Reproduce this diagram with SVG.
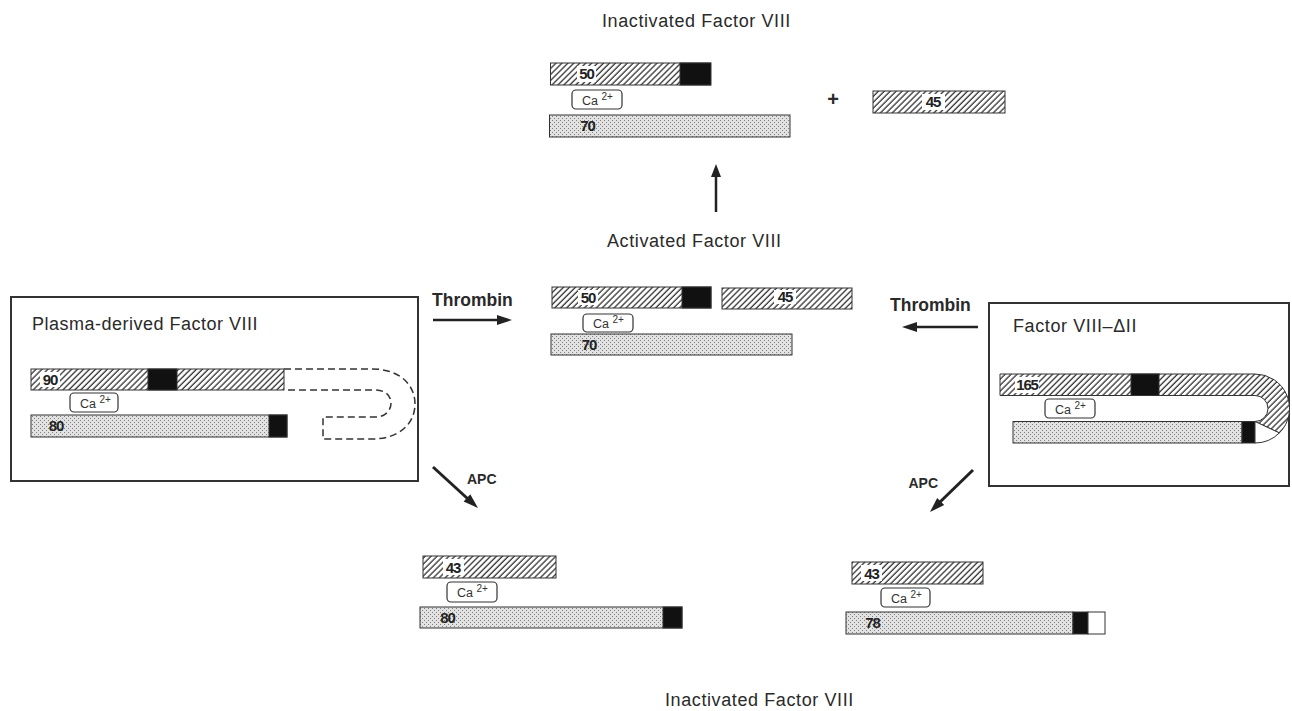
<svg xmlns="http://www.w3.org/2000/svg" width="1292" height="711" viewBox="0 0 1292 711">
<defs>
<pattern id="hatch" patternUnits="userSpaceOnUse" width="4.2" height="4.2" patternTransform="rotate(45)">
<rect width="4.2" height="4.2" fill="#fff"/>
<line x1="1" y1="0" x2="1" y2="4.2" stroke="#222" stroke-width="1.2"/>
</pattern>
<pattern id="dots" patternUnits="userSpaceOnUse" width="4" height="4">
<rect width="4" height="4" fill="#e2e2e2"/>
<rect x="0" y="0" width="1" height="1" fill="#808080"/>
<rect x="2" y="2" width="1" height="1" fill="#808080"/>
</pattern>
</defs>
<style>
.title{font-family:"Liberation Sans",Arial,sans-serif;font-size:18px;letter-spacing:0.6px;fill:#2a2a2a}
.bold{font-family:"Liberation Sans",Arial,sans-serif;font-weight:bold;fill:#2a2a2a}
.num{font-family:"Liberation Sans",Arial,sans-serif;font-weight:bold;font-size:15px;letter-spacing:-1.2px;fill:#222;text-anchor:middle}
.ca{font-family:"Liberation Sans",Arial,sans-serif;font-size:12.5px;fill:#333}
.sup{font-size:10px}
.h{fill:url(#hatch);stroke:#333;stroke-width:1}
.s{fill:url(#dots);stroke:#333;stroke-width:1}
.k{fill:#111;stroke:#333;stroke-width:1}
.w{fill:#fff;stroke:none}
.wb{fill:#fff;stroke:#333;stroke-width:1}
.cab{fill:#fff;stroke:#333;stroke-width:1.2}
.box{fill:none;stroke:#333;stroke-width:2}
.arr{stroke:#222;fill:none}
.head{fill:#222}
.dash{fill:none;stroke:#333;stroke-width:1.5;stroke-dasharray:7 4}
</style>
<rect width="1292" height="711" fill="#fff"/>

<g id="inactivated-top">
<text class="title" x="602" y="27">Inactivated Factor VIII</text>
<rect class="h" x="550.5" y="63" width="160" height="22"/>
<rect class="k" x="680" y="63" width="31" height="22"/>
<rect class="w" x="577" y="66" width="19" height="16"/>
<text class="num" x="586.5" y="79">50</text>
<rect class="cab" x="572" y="90" width="50" height="19" rx="4"/>
<text class="ca" x="582" y="105">Ca <tspan class="sup" dy="-5">2+</tspan></text>
<rect class="s" x="549.5" y="115" width="240.5" height="22"/>
<text class="num" x="587.5" y="131">70</text>
</g>

<g id="plus">
<text class="bold" x="833" y="106" font-size="20" text-anchor="middle">+</text>
</g>

<g id="fragment-45-top">
<rect class="h" x="873" y="91" width="132" height="22"/>
<rect class="w" x="922" y="94" width="23" height="16"/>
<text class="num" x="933" y="107">45</text>
</g>

<g id="activated">
<text class="title" x="607" y="247">Activated Factor VIII</text>
<rect class="h" x="552" y="287" width="159" height="21"/>
<rect class="k" x="682" y="287" width="29" height="21"/>
<rect class="w" x="578" y="290" width="20" height="15"/>
<text class="num" x="588" y="303">50</text>
<rect class="h" x="722" y="288" width="130" height="21"/>
<rect class="w" x="774" y="290" width="22" height="14"/>
<text class="num" x="785" y="302">45</text>
<rect class="cab" x="583" y="314" width="50" height="18" rx="4"/>
<text class="ca" x="593" y="328">Ca <tspan class="sup" dy="-5">2+</tspan></text>
<rect class="s" x="551" y="334" width="241" height="21"/>
<text class="num" x="589" y="350">70</text>
</g>

<g id="plasma-derived">
<rect class="box" x="11" y="297" width="407" height="184"/>
<text class="title" x="32" y="330" style="letter-spacing:0.5px">Plasma-derived Factor VIII</text>
<path class="dash" d="M284,369 H372 C400,369 415,385 415,404 C415,423 400,439 372,439 H323 V417 H375 C386,417 391,410 391,403 C391,396 386,390 375,390 H284"/>
<rect class="h" x="31" y="369" width="253" height="21"/>
<rect class="k" x="148" y="369" width="29" height="21"/>
<rect class="w" x="40" y="372" width="20" height="15"/>
<text class="num" x="50" y="385">90</text>
<rect class="cab" x="70" y="393" width="48" height="19" rx="4"/>
<text class="ca" x="80" y="408">Ca <tspan class="sup" dy="-5">2+</tspan></text>
<rect class="s" x="31" y="415" width="256" height="22"/>
<rect class="k" x="269" y="415" width="18" height="22"/>
<text class="num" x="56" y="431">80</text>
</g>

<g id="factor-viii-dii">
<rect class="box" x="989" y="303" width="300" height="183"/>
<text class="title" x="1013" y="332">Factor VIII–ΔII</text>
<path class="h" d="M1000,374 H1255 A34.5,34.5 0 0 1 1279.4,432.9 L1255,421.5 A13,13 0 0 0 1255,395.5 H1000 Z"/>
<rect class="k" x="1131" y="374" width="28" height="21.5"/>
<rect class="w" x="1015" y="377" width="24" height="16"/>
<text class="num" x="1027" y="390">165</text>
<rect class="cab" x="1045" y="399" width="50" height="19" rx="4"/>
<text class="ca" x="1055" y="414">Ca <tspan class="sup" dy="-5">2+</tspan></text>
<rect class="s" x="1013" y="421.5" width="229" height="21.5"/>
<rect class="k" x="1242" y="421.5" width="13" height="21.5"/>
<path class="wb" d="M1255,421.5 L1279.4,432.9 A34.5,34.5 0 0 1 1255,443 Z"/>
</g>

<g id="apc-left-product">
<rect class="h" x="423" y="556" width="133" height="22"/>
<rect class="w" x="443" y="559" width="21" height="16"/>
<text class="num" x="453" y="573">43</text>
<rect class="cab" x="447" y="582" width="50" height="20" rx="4"/>
<text class="ca" x="457" y="597">Ca <tspan class="sup" dy="-5">2+</tspan></text>
<rect class="s" x="420" y="607" width="262" height="21"/>
<rect class="k" x="663" y="607" width="19" height="21"/>
<text class="num" x="447.5" y="623">80</text>
</g>

<g id="apc-right-product">
<rect class="h" x="852" y="562" width="131" height="22"/>
<rect class="w" x="861" y="565" width="21" height="16"/>
<text class="num" x="871.5" y="579">43</text>
<rect class="cab" x="881" y="588" width="49" height="19" rx="4"/>
<text class="ca" x="891" y="603">Ca <tspan class="sup" dy="-5">2+</tspan></text>
<rect class="s" x="846" y="612" width="227" height="22"/>
<rect class="k" x="1073" y="612" width="15" height="22"/>
<rect class="wb" x="1088" y="612" width="17" height="22"/>
<text class="num" x="872.5" y="628">78</text>
</g>

<g id="inactivated-bottom">
<text class="title" x="665" y="706">Inactivated Factor VIII</text>
</g>

<g id="connectors">
<line class="arr" x1="716" y1="212" x2="716" y2="175" stroke-width="2.5"/>
<polygon class="head" points="716,164 711,177 721,177"/>
<text class="bold" x="432" y="306" font-size="17.5">Thrombin</text>
<line class="arr" x1="433" y1="320" x2="500" y2="320" stroke-width="2.5"/>
<polygon class="head" points="512,320 497,315 497,325"/>
<text class="bold" x="890" y="311" font-size="17.5">Thrombin</text>
<line class="arr" x1="978" y1="327" x2="914" y2="327" stroke-width="2.5"/>
<polygon class="head" points="902,327 917,322 917,332"/>
<text class="bold" x="467" y="484" font-size="14">APC</text>
<line class="arr" x1="433" y1="467" x2="468" y2="499" stroke-width="3"/>
<polygon class="head" points="478,508 463.6,501.6 470.3,494.2"/>
<text class="bold" x="938" y="488" font-size="14" text-anchor="end">APC</text>
<line class="arr" x1="973" y1="470" x2="940" y2="502" stroke-width="3"/>
<polygon class="head" points="930,512 944.2,505.1 937.2,497.9"/>
</g>
</svg>
